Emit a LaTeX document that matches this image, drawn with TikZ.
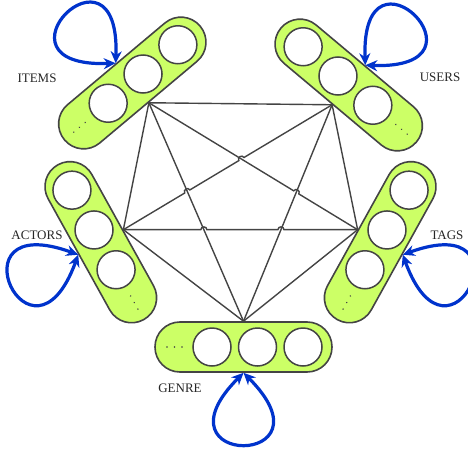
\documentclass[tikz,border=0pt]{standalone}
\usepackage{fontspec}
\setmainfont{Liberation Serif}
\usetikzlibrary{calc,arrows.meta}
\definecolor{capgreen}{HTML}{CCFF66}
\definecolor{edgegray}{HTML}{444444}
\definecolor{loopblue}{HTML}{0033CC}
\tikzset{
 capsule/.style={rectangle, rounded corners=24.9pt, minimum width=177pt, minimum height=50pt, inner sep=0pt, draw=edgegray, line width=1.6pt, fill=capgreen},
 hole/.style={circle, draw=edgegray, line width=1.5pt, fill=white, minimum size=38pt, inner sep=0pt},
 link/.style={draw=edgegray, line width=1.4pt},
 selfloop/.style={draw=loopblue, line width=3.2pt, {Stealth[length=12pt,width=11pt]}-{Stealth[length=12pt,width=11pt]}},
 lbl/.style={font=\fontsize{13}{15}\selectfont, text=black!85, inner sep=0pt},
 hopbend/.style={bend left=90, looseness=1.6},
}
\newcommand\capsuleunit[4]{%
 \begin{scope}[shift={(#2,#3)}, rotate=#4]
 \node[capsule, rotate=#4] (#1) at (0,0) {};
 \node[hole] (#1-a) at (-31.5,0) {};
 \node[hole] (#1-b) at (14,0) {};
 \node[hole] (#1-c) at (59.5,0) {};
 \fill[edgegray] (-76.5,0) circle (0.8) (-69,0) circle (0.8) (-61.5,0) circle (0.8);
 \end{scope}}
\begin{document}
\begin{tikzpicture}[x=1pt,y=1pt]
\useasboundingbox (0,0) rectangle (468,-455);
\capsuleunit{items}{132.3}{-83}{40}
\capsuleunit{users}{348.7}{-85}{140}
\capsuleunit{actors}{100.8}{-242.2}{119}
\capsuleunit{tags}{380.2}{-242.2}{61}
\capsuleunit{genre}{243.5}{-347}{0}
\coordinate (hI) at (items.south);
\coordinate (hU) at (users.north);
\coordinate (hA) at (actors.south);
\coordinate (hT) at (tags.north);
\coordinate (hG) at (genre.north);
\coordinate (xAUIG) at (intersection of hA--hU and hI--hG);
\coordinate (xAUIT) at (intersection of hA--hU and hI--hT);
\coordinate (xITUG) at (intersection of hI--hT and hU--hG);
\coordinate (xATIG) at (intersection of hA--hT and hI--hG);
\coordinate (xATUG) at (intersection of hA--hT and hU--hG);
% plain edges
\draw[link] (hI) -- (hU);
\draw[link] (hI) -- (hA);
\draw[link] (hI) -- (hG);
\draw[link] (hU) -- (hT);
\draw[link] (hU) -- (hG);
\draw[link] (hA) -- (hG);
\draw[link] (hT) -- (hG);
% edges with line jumps
\draw[link] (hA) -- ($(xAUIG)!3pt!(hA)$) to[hopbend] ($(xAUIG)!3pt!(hU)$)
 -- ($(xAUIT)!3pt!(hA)$) to[hopbend] ($(xAUIT)!3pt!(hU)$) -- (hU);
\draw[link] (hA) -- ($(xATIG)!3pt!(hA)$) to[hopbend] ($(xATIG)!3pt!(hT)$)
 -- ($(xATUG)!3pt!(hA)$) to[hopbend] ($(xATUG)!3pt!(hT)$) -- (hT);
\draw[link] (hI) -- ($(xITUG)!3pt!(hI)$) to[hopbend] ($(xITUG)!3pt!(hT)$) -- (hT);
% self loops
\draw[selfloop] (items.north) .. controls +(182:135) and +(88:135) .. (items.north);
\draw[selfloop] (users.south) .. controls +(92:135) and +(-2:135) .. (users.south);
\draw[selfloop] (actors.north) .. controls +(160:138) and +(250:138) .. (actors.north);
\draw[selfloop] (tags.south) .. controls +(-70:138) and +(20:138) .. (tags.south);
\draw[selfloop] (genre.south) .. controls +(-135:135) and +(-45:135) .. (genre.south);
% labels
\node[lbl] (litems) at (37,-78) {ITEMS};
\node[lbl] (lusers) at (440,-77) {USERS};
\node[lbl] (lactors) at (37,-235) {ACTORS};
\node[lbl] (ltags) at (447,-235) {TAGS};
\node[lbl] (lgenre) at (180,-388) {GENRE};
\end{tikzpicture}
\end{document}
